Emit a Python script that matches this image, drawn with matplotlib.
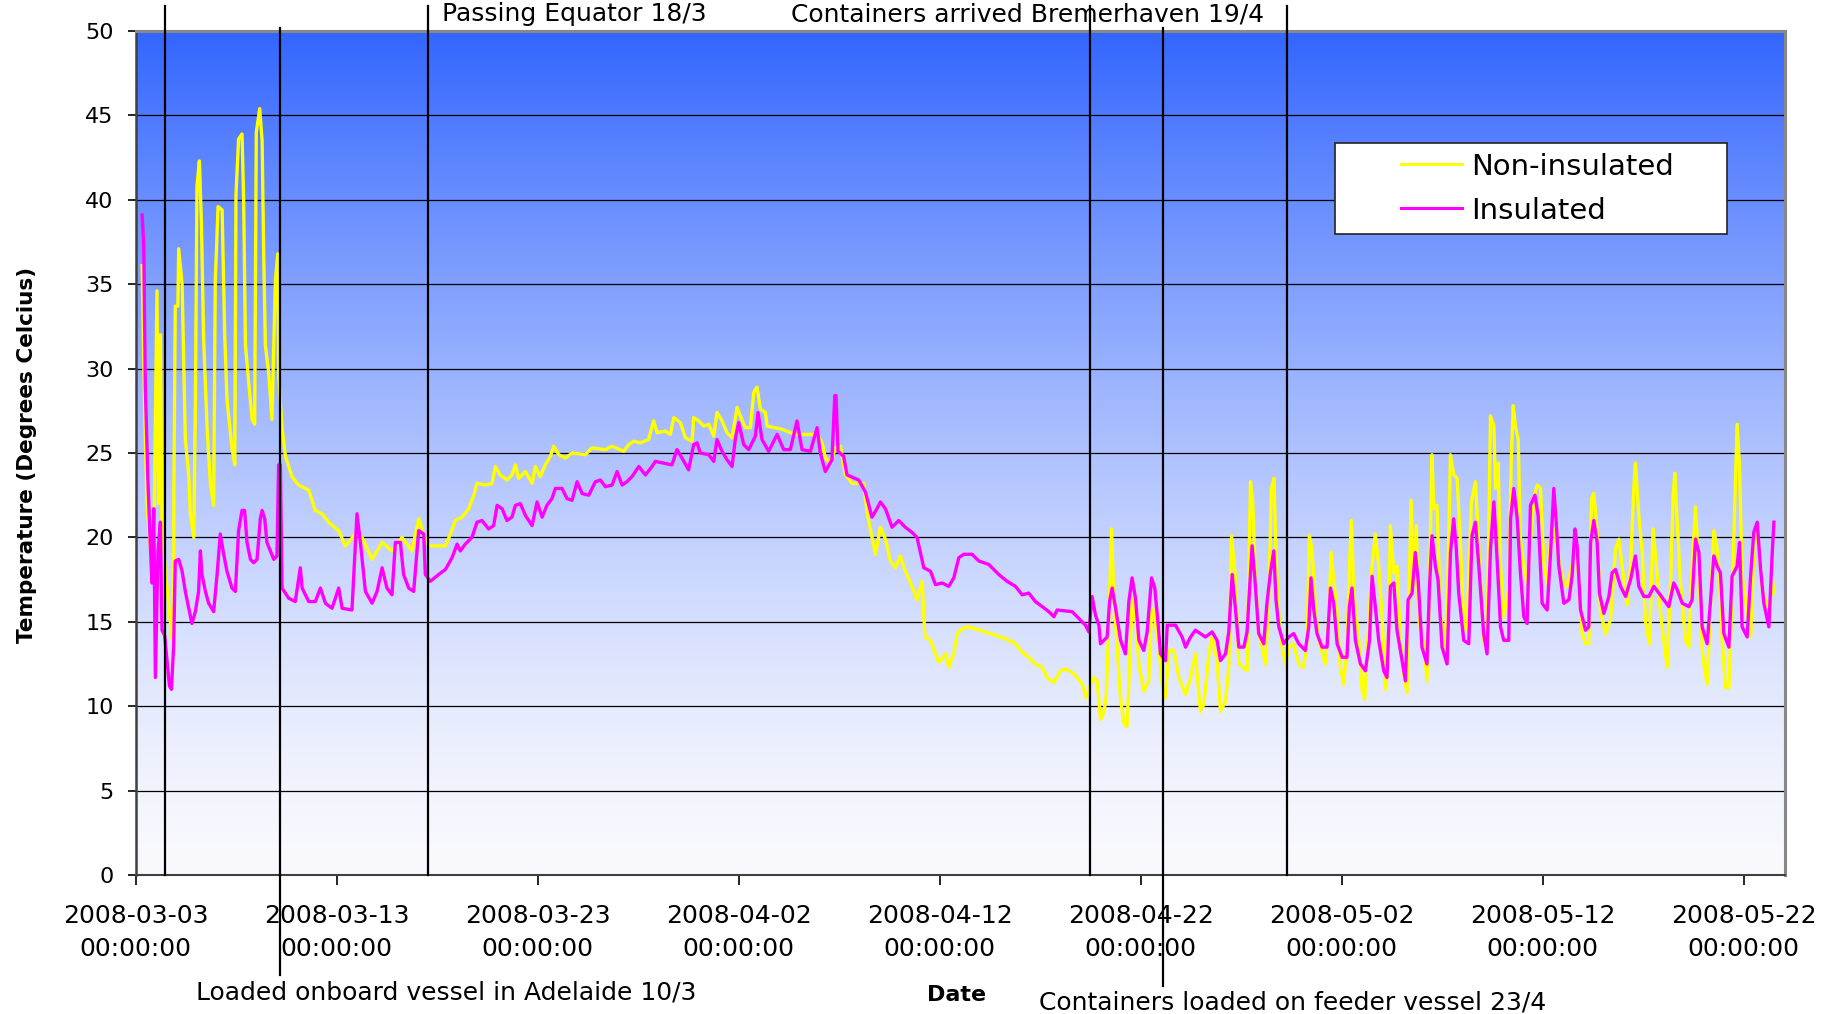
import datetime as dt

import matplotlib
matplotlib.use('Agg')
import matplotlib.pyplot as plt
import matplotlib.dates as mdates
import matplotlib.transforms as mtransforms
from matplotlib.patches import Rectangle
from matplotlib.lines import Line2D
import numpy as np

START = dt.datetime(2008, 3, 3)

# readings as (days after 2008-03-03 00:00, degrees C)
non_ins_days = [
    0.32, 0.45, 0.56, 0.75, 0.90, 1.06, 1.14, 1.23, 1.31, 1.48, 1.64, 1.81, 1.89,
    1.90, 1.97, 2.10, 2.14, 2.31, 2.47, 2.64, 2.72, 2.89, 2.97, 3.05, 3.17, 3.27,
    3.38, 3.55, 3.72, 3.88, 3.96, 4.10, 4.30, 4.43, 4.54, 4.79, 4.93, 4.99, 5.12,
    5.29, 5.37, 5.46, 5.62, 5.79, 5.92, 6.00, 6.17, 6.29, 6.37, 6.45, 6.62, 6.78,
    6.95, 7.07, 7.11, 7.28, 7.45, 7.78, 8.11, 8.61, 8.94, 9.27, 9.60, 10.10, 10.43,
    10.93, 11.26, 11.76, 12.26, 12.75, 13.25, 13.75, 14.08, 14.33, 14.58, 15.41,
    15.66, 15.90, 16.24, 16.57, 16.82, 16.98, 17.40, 17.73, 17.89, 18.14, 18.47,
    18.72, 18.89, 19.05, 19.39, 19.72, 19.88, 20.13, 20.38, 20.63, 20.80, 21.05,
    21.38, 21.71, 22.37, 22.70, 23.37, 23.70, 24.28, 24.53, 24.78, 25.11, 25.52,
    25.77, 25.94, 26.35, 26.60, 26.77, 27.10, 27.35, 27.68, 27.76, 28.01, 28.26,
    28.51, 28.76, 28.92, 29.17, 29.42, 29.67, 29.92, 30.08, 30.33, 30.58, 30.75,
    30.91, 31.08, 31.33, 31.41, 32.16, 32.82, 33.90, 34.15, 34.31, 34.56, 34.81,
    35.06, 35.31, 35.64, 36.22, 36.38, 36.63, 36.80, 37.05, 37.30, 37.55, 37.80,
    38.04, 38.29, 38.62, 38.87, 39.13, 39.26, 39.54, 39.79, 39.95, 40.29, 40.45,
    40.70, 40.87, 41.12, 41.45, 42.28, 43.27, 43.77, 44.10, 44.43, 44.76, 45.10,
    45.34, 45.68, 46.01, 46.26, 46.59, 46.84, 47.09, 47.29, 47.50, 47.67, 47.83,
    48.00, 48.16, 48.28, 48.41, 48.55, 48.66, 48.83, 48.99, 49.16, 49.32, 49.44,
    49.57, 49.74, 49.91, 50.15, 50.40, 50.54, 50.65, 50.90, 51.07, 51.23, 51.40,
    51.65, 51.90, 52.23, 52.48, 52.72, 52.97, 53.14, 53.39, 53.55, 53.80, 53.97,
    54.22, 54.38, 54.52, 54.71, 54.88, 55.29, 55.46, 55.57, 55.70, 55.87, 56.04,
    56.20, 56.37, 56.50, 56.63, 56.73, 56.87, 57.03, 57.20, 57.36, 57.61, 57.86,
    58.11, 58.27, 58.39, 58.52, 58.69, 58.85, 59.19, 59.35, 59.47, 59.60, 59.77,
    59.93, 60.10, 60.26, 60.38, 60.48, 60.60, 60.85, 61.01, 61.14, 61.26, 61.48,
    61.67, 61.84, 62.01, 62.17, 62.30, 62.42, 62.59, 62.75, 62.92, 63.08, 63.25,
    63.33, 63.45, 63.58, 63.71, 63.83, 64.08, 64.24, 64.33, 64.49, 64.58, 64.74,
    64.91, 65.07, 65.24, 65.41, 65.57, 65.74, 65.90, 66.07, 66.23, 66.45, 66.65,
    66.82, 67.06, 67.23, 67.40, 67.57, 67.65, 67.78, 67.90, 68.06, 68.31, 68.43,
    68.53, 68.64, 68.78, 68.89, 69.06, 69.22, 69.39, 69.56, 69.72, 69.89, 70.05,
    70.22, 70.39, 70.55, 70.80, 71.05, 71.21, 71.46, 71.63, 71.80, 71.96, 72.13,
    72.29, 72.43, 72.54, 72.71, 72.87, 73.12, 73.37, 73.62, 73.79, 73.95, 74.20,
    74.37, 74.53, 74.61, 74.78, 74.95, 75.11, 75.31, 75.49, 75.61, 75.86, 76.02,
    76.19, 76.36, 76.49, 76.57, 76.69, 76.85, 77.10, 77.27, 77.43, 77.60, 77.77,
    77.96, 78.18, 78.35, 78.51, 78.63, 78.76, 78.93, 79.09, 79.26, 79.42, 79.59,
    79.67, 79.79, 79.92, 80.09, 80.34, 80.50, 80.67, 80.92, 81.08, 81.25, 81.41,
    81.50,
]
non_ins_temp = [
    36.1, 27.2, 22.0, 19.0, 19.0, 34.6, 22.0, 32.0, 20.4, 18.0, 16.0, 14.0, 14.0,
    22.8, 33.7, 33.7, 37.1, 35.0, 25.8, 23.7, 21.4, 20.0, 28.0, 40.8, 42.3, 38.6,
    31.8, 26.5, 23.1, 21.9, 35.2, 39.6, 39.4, 32.0, 28.2, 25.3, 24.3, 40.3, 43.6,
    43.9, 40.1, 31.4, 29.2, 27.0, 26.7, 44.0, 45.4, 43.5, 36.7, 31.4, 29.7, 27.0,
    35.2, 36.8, 29.7, 26.5, 24.8, 23.6, 23.1, 22.8, 21.6, 21.4, 20.9, 20.4, 19.5,
    20.2, 20.0, 18.7, 19.7, 19.2, 20.0, 19.2, 21.1, 20.2, 19.5, 19.5,
    20.2, 21.0, 21.2, 21.7, 22.5, 23.2, 23.1, 23.2, 24.2, 23.7, 23.4,
    23.7, 24.3, 23.5, 23.9, 23.2, 24.2, 23.6, 24.3, 24.8, 25.4, 24.9,
    24.7, 25.0, 24.9, 25.3, 25.2, 25.4, 25.1, 25.5, 25.7, 25.6, 25.8,
    26.9, 26.2, 26.3, 26.1, 27.1, 26.8, 25.9, 25.7, 27.1, 26.9, 26.6,
    26.7, 26.0, 27.4, 26.9, 26.2, 25.9, 27.7, 27.2, 26.5, 26.5, 28.6,
    28.9, 27.6, 27.4, 26.6, 26.4, 26.1, 26.1, 25.6, 24.7, 24.4, 25.3,
    25.4, 23.7, 23.2, 23.2, 21.5, 20.0, 19.0, 20.6, 19.9, 18.6, 18.2,
    18.9, 18.0, 17.1, 16.3, 17.4, 14.1, 13.9, 13.1, 12.6, 13.1, 12.3,
    13.1, 14.3, 14.6, 14.7, 14.4, 14.0, 13.7, 13.2, 12.9, 12.5, 12.3,
    11.7, 11.4, 12.1, 12.2, 12.0, 11.7, 11.3, 10.5, 11.3, 11.7, 11.5,
    9.2, 9.6, 10.5, 14.8, 20.5, 16.4, 13.5, 10.5, 9.0, 8.8, 12.3,
    16.4, 15.4, 12.5, 10.9, 11.5, 15.8, 15.6, 13.5, 11.3, 10.5, 13.3,
    13.3, 11.7, 10.7, 11.7, 13.1, 9.7, 10.1, 13.1, 14.1, 12.7, 9.7,
    10.3, 12.3, 20.1, 17.6, 12.5, 12.1, 23.3, 22.2, 17.9, 14.3, 13.5,
    12.5, 16.3, 22.9, 23.5, 18.9, 15.5, 13.5, 12.5, 13.5, 13.7, 12.5,
    12.3, 13.7, 20.1, 19.3, 15.9, 13.9, 12.5, 15.1, 19.1, 17.5, 15.5,
    12.3, 11.3, 13.7, 18.1, 21.0, 16.7, 13.9, 11.0, 10.4, 13.1, 17.9,
    20.2, 18.3, 15.3, 11.0, 12.3, 20.7, 17.9, 18.3, 13.9, 11.9, 10.8,
    15.5, 22.2, 17.1, 20.7, 15.1, 13.7, 11.5, 15.3, 24.9, 21.7, 21.9,
    15.5, 13.3, 15.5, 24.9, 23.7, 23.5, 19.9, 14.7, 14.5, 22.1, 23.3,
    19.5, 13.9, 13.5, 27.2, 26.6, 22.9, 24.4, 18.3, 15.3, 17.1, 24.4,
    27.8, 26.6, 25.8, 19.9, 18.3, 17.3, 19.7, 22.3, 23.1, 22.9, 18.5,
    17.3, 19.9, 20.5, 18.7, 17.3, 17.1, 18.3, 19.7, 17.5, 14.3, 13.7,
    13.7, 22.3, 22.6, 20.3, 15.7, 14.3, 15.1, 19.3, 19.9, 18.3, 16.0,
    18.3, 22.9, 24.4, 21.3, 19.1, 15.0, 13.7, 20.5, 18.9, 15.5, 13.9,
    12.3, 17.3, 22.5, 23.8, 20.9, 17.3, 13.9, 13.5, 18.3, 21.8, 17.9,
    12.9, 11.3, 16.0, 20.4, 19.7, 18.3, 13.9, 11.1, 11.1, 16.5, 23.5,
    26.7, 24.2, 17.7, 16.3, 14.1, 19.1, 20.7, 16.9, 16.3, 15.1, 17.7,
    16.7,
]

ins_days = [
    0.32, 0.40, 0.48, 0.61, 0.73, 0.81, 0.90, 0.98, 1.11, 1.23, 1.31, 1.44, 1.56,
    1.68, 1.78, 1.89, 1.97, 2.14, 2.31, 2.47, 2.64, 2.80, 2.97, 3.13, 3.22, 3.30,
    3.47, 3.63, 3.88, 4.05, 4.21, 4.38, 4.54, 4.79, 4.96, 5.12, 5.29, 5.42, 5.54,
    5.71, 5.87, 6.04, 6.20, 6.29, 6.42, 6.53, 6.70, 6.87, 7.03, 7.11, 7.20, 7.28,
    7.61, 7.94, 8.19, 8.28, 8.61, 8.94, 9.19, 9.44, 9.77, 10.10, 10.27, 10.76,
    11.01, 11.18, 11.43, 11.76, 12.01, 12.26, 12.50, 12.75, 12.92, 13.17, 13.33,
    13.58, 13.83, 14.08, 14.33, 14.41, 14.66, 15.07, 15.41, 15.74, 15.99, 16.15,
    16.40, 16.73, 16.98, 17.23, 17.56, 17.81, 17.98, 18.23, 18.47, 18.72, 18.89,
    19.14, 19.39, 19.72, 19.97, 20.22, 20.46, 20.71, 20.88, 21.21, 21.46, 21.71,
    21.96, 22.21, 22.54, 22.87, 23.12, 23.37, 23.70, 23.95, 24.20, 24.44, 24.69,
    25.03, 25.36, 25.69, 25.85, 26.68, 26.93, 27.18, 27.51, 27.76, 27.93, 28.09,
    28.51, 28.76, 28.92, 29.17, 29.42, 29.67, 29.83, 30.00, 30.25, 30.50, 30.83,
    30.96, 31.16, 31.49, 31.91, 32.24, 32.57, 32.90, 33.15, 33.57, 33.90, 34.06,
    34.31, 34.64, 34.78, 34.84, 34.94, 35.22, 35.39, 35.97, 36.30, 36.63, 36.88,
    37.05, 37.30, 37.63, 37.96, 38.29, 38.62, 38.87, 39.21, 39.54, 39.79, 40.12,
    40.45, 40.70, 40.95, 41.20, 41.61, 41.95, 42.44, 42.94, 43.35, 43.77, 44.10,
    44.43, 44.76, 45.10, 45.43, 45.68, 45.84, 46.59, 46.92, 47.25, 47.42, 47.58,
    47.75, 47.92, 48.00, 48.33, 48.45, 48.58, 48.75, 49.00, 49.24, 49.41, 49.57,
    49.74, 49.91, 50.15, 50.32, 50.54, 50.70, 50.87, 50.98, 51.23, 51.32, 51.73,
    52.06, 52.23, 52.48, 52.72, 52.97, 53.22, 53.55, 53.80, 53.97, 54.22, 54.38,
    54.55, 54.71, 54.88, 55.13, 55.29, 55.54, 55.67, 55.87, 56.12, 56.28, 56.45,
    56.62, 56.73, 56.87, 57.11, 57.36, 57.61, 57.86, 58.19, 58.36, 58.47, 58.61,
    58.77, 59.02, 59.27, 59.44, 59.60, 59.77, 60.02, 60.26, 60.38, 60.51, 60.68,
    60.93, 61.18, 61.38, 61.51, 61.67, 61.84, 62.09, 62.25, 62.42, 62.59, 62.75,
    63.00, 63.17, 63.30, 63.50, 63.66, 63.80, 63.99, 64.24, 64.36, 64.49, 64.66,
    64.79, 64.99, 65.24, 65.41, 65.57, 65.69, 65.82, 66.07, 66.32, 66.48, 66.65,
    66.82, 67.06, 67.23, 67.40, 67.57, 67.73, 67.90, 68.06, 68.31, 68.40, 68.56,
    68.73, 68.89, 69.06, 69.22, 69.39, 69.61, 69.77, 69.97, 70.22, 70.39, 70.55,
    70.67, 70.80, 71.05, 71.30, 71.46, 71.60, 71.71, 71.88, 72.13, 72.29, 72.38,
    72.54, 72.71, 72.82, 73.04, 73.29, 73.45, 73.62, 73.87, 74.12, 74.37, 74.61,
    74.78, 75.03, 75.28, 75.53, 75.78, 76.27, 76.52, 76.69, 76.94, 77.27, 77.43,
    77.60, 77.77, 77.93, 78.18, 78.35, 78.51, 78.68, 78.84, 79.01, 79.26, 79.42,
    79.67, 79.79, 79.92, 80.17, 80.34, 80.50, 80.67, 80.84, 81.00, 81.25, 81.41,
    81.50,
]
ins_temp = [
    39.1, 37.4, 28.9, 23.3, 19.5, 17.3, 21.7, 11.7, 19.2, 20.9, 14.5, 14.2, 12.7,
    11.2, 11.0, 13.6, 18.6, 18.7, 18.0, 16.8, 15.8, 14.9, 15.6, 16.8, 19.2, 17.8,
    16.8, 16.1, 15.6, 17.8, 20.2, 19.0, 18.0, 17.0, 16.8, 20.4, 21.6, 21.6, 19.7,
    18.7, 18.5, 18.7, 21.1, 21.6, 21.1, 19.7, 19.2, 18.7, 18.9, 24.3, 24.3, 17.0,
    16.4, 16.2, 18.2, 17.0, 16.2, 16.2, 17.0, 16.1, 15.8, 17.0, 15.8, 15.7,
    21.4, 19.7, 16.8, 16.1, 16.8, 18.2, 17.0, 16.6, 19.7, 19.7, 17.8,
    17.0, 16.8, 20.4, 20.2, 17.8, 17.4, 17.8, 18.1, 18.8, 19.6, 19.2,
    19.6, 20.0, 20.9, 21.0, 20.5, 20.7, 21.9, 21.7, 21.0, 21.2, 21.9,
    22.0, 21.3, 20.7, 22.1, 21.2, 21.9, 22.3, 22.9, 22.9, 22.3, 22.2,
    23.3, 22.6, 22.5, 23.3, 23.4, 23.0, 23.1, 23.9, 23.1, 23.3, 23.6,
    24.2, 23.7, 24.2, 24.5, 24.3, 25.2, 24.7, 24.0, 25.5, 25.6, 25.0,
    24.9, 24.5, 25.8, 25.1, 24.6, 24.2, 25.8, 26.8, 25.5, 25.2, 26.0,
    27.4, 25.8, 25.1, 26.1, 25.2, 25.2, 26.9, 25.2, 25.1, 26.5, 25.0,
    23.9, 24.6, 28.4, 28.4, 25.1, 24.8, 23.7, 23.4, 22.7, 21.2, 21.7,
    22.1, 21.7, 20.6, 21.0, 20.6, 20.3, 20.0, 18.2, 18.0, 17.2, 17.3,
    17.1, 17.6, 18.8, 19.0, 19.0, 18.6, 18.4, 17.8, 17.4, 17.1, 16.6,
    16.7, 16.2, 15.9, 15.6, 15.3, 15.7, 15.6, 15.2, 14.8, 14.4, 16.5,
    15.4, 14.8, 13.7, 14.1, 16.2, 17.0, 15.8, 13.9, 13.1, 16.2, 17.6,
    16.4, 13.9, 13.3, 14.4, 17.6, 17.0, 14.8, 13.1, 12.7, 14.8, 14.8,
    14.1, 13.5, 14.1, 14.5, 14.3, 14.1, 14.4, 13.9, 12.7, 13.1, 14.4,
    17.8, 15.8, 13.5, 13.5, 14.4, 19.5, 17.7, 14.3, 13.7, 16.1, 17.9,
    19.2, 16.3, 14.7, 13.7, 14.1, 14.3, 13.7, 13.3, 14.7, 17.6, 15.7,
    14.3, 13.5, 13.5, 17.0, 16.1, 13.7, 12.9, 12.9, 15.9, 17.0, 13.9,
    12.5, 12.1, 13.9, 17.7, 15.9, 13.9, 12.1, 11.7, 17.1, 17.3, 14.5,
    12.7, 11.5, 16.3, 16.7, 19.1, 17.5, 13.5, 12.5, 16.9, 20.1, 18.3,
    17.5, 13.5, 12.5, 19.1, 21.1, 19.5, 16.7, 13.9, 13.7, 20.1, 20.9,
    18.3, 14.3, 13.1, 19.3, 22.1, 18.7, 14.7, 13.9, 13.9, 21.1, 22.9,
    21.1, 17.9, 15.3, 14.9, 21.9, 22.5, 21.3, 16.1, 15.7, 19.1, 22.9,
    20.9, 18.3, 16.1, 16.3, 17.7, 20.5, 19.5, 15.7, 14.5, 14.7, 19.7,
    21.0, 19.7, 16.7, 15.5, 16.5, 17.9, 18.1, 17.1, 16.5, 17.5, 18.9,
    17.1, 16.5, 16.5, 17.1, 16.7, 15.9, 17.3, 16.9, 16.1, 15.9, 16.3,
    19.9, 19.1, 14.7, 13.7, 16.3, 18.9, 18.3, 17.9, 14.3, 13.5, 17.7,
    18.3, 19.7, 14.7, 14.1, 17.7, 20.3, 20.9, 18.1, 16.1, 14.7, 18.9,
    20.9,
]

# vertical marker lines (days after start) and their annotations
event_days = [1.44, 7.20, 14.54, 47.46, 51.10, 57.30]
event_labels = [
    ("Passing Equator 18/3", 0.241, 0.979),
    ("Containers arrived Bremerhaven 19/4", 0.431, 0.979),
    ("Loaded onboard vessel in Adelaide 10/3", 0.107, 0.014),
    ("Containers loaded on feeder vessel 23/4", 0.566, 0.004),
]


def to_dates(days):
    return [START + dt.timedelta(days=d) for d in days]


fig = plt.figure(figsize=(18.36, 10.14), dpi=100)
ax = fig.add_axes([0.0739, 0.1371, 0.8983, 0.8323])

x0 = mdates.date2num(START)
x1 = mdates.date2num(START + dt.timedelta(days=82.05))

# blue-to-white background, whitening faster towards the bottom
t = np.linspace(0, 1, 256)  # 0 at the bottom (0 C), 1 at the top (50 C)
s = 1 - t ** 1.4
top = np.array([0.20, 0.40, 1.00])
bottom = np.array([0.98, 0.98, 0.995])
grad = top + (bottom - top) * s[:, None]
ax.imshow(grad[:, None, :], extent=[x0, x1, 0, 50], origin='lower',
          aspect='auto', zorder=0, interpolation='bilinear')

for yv in range(5, 50, 5):
    ax.axhline(yv, color='black', lw=0.9, zorder=1)

ax.plot(to_dates(non_ins_days), non_ins_temp, color='#FFFF00', lw=2.4, zorder=3)
ax.plot(to_dates(ins_days), ins_temp, color='#FF00FF', lw=2.4, zorder=4)

ax.set_xlim(x0, x1)
ax.set_ylim(0, 50)
ax.set_yticks(range(0, 51, 5))
ticks = [START + dt.timedelta(days=10 * i) for i in range(9)]
ax.set_xticks(ticks)
ax.xaxis.set_major_formatter(mdates.DateFormatter('%Y-%m-%d\n%H:%M:%S'))
for lab in ax.get_xticklabels():
    lab.set_linespacing(1.45)

ax.tick_params(axis='y', labelsize=16, length=6, width=1.2, pad=10)
ax.tick_params(axis='x', labelsize=18, length=7, width=1.2, pad=14)

ax.spines['left'].set_color('#404040')
ax.spines['left'].set_linewidth(1.8)
ax.spines['bottom'].set_color('#404040')
ax.spines['bottom'].set_linewidth(1.5)
ax.spines['top'].set_color('#888888')
ax.spines['top'].set_linewidth(2.2)
ax.spines['right'].set_color('#888888')
ax.spines['right'].set_linewidth(2.2)

# event lines run past the plot area
blend = mtransforms.blended_transform_factory(ax.transData, fig.transFigure)
line_spans = [(0.994, 0.137), (0.972, 0.038), (0.994, 0.137),
              (0.994, 0.137), (0.972, 0.028), (0.994, 0.137)]
for d, (ya, yb) in zip(event_days, line_spans):
    xd = mdates.date2num(START + dt.timedelta(days=d))
    fig.add_artist(Line2D([xd, xd], [ya, yb], transform=blend,
                          color='black', lw=1.6, zorder=5))

for text, tx, ty in event_labels:
    fig.text(tx, ty, text, fontsize=18, ha='left', va='baseline')

fig.text(0.0147, 0.551, 'Temperature (Degrees Celcius)', rotation=90,
         fontsize=15.5, fontweight='bold', ha='center', va='center')
fig.text(0.521, 0.0128, 'Date', fontsize=16, fontweight='bold',
         ha='center', va='baseline')

# legend box
ax.add_patch(Rectangle((0.727, 0.759), 0.238, 0.108, transform=ax.transAxes,
                       facecolor='white', edgecolor='#222222', lw=1.2, zorder=6))
handles = [Line2D([], [], color='#FFFF00', lw=2.2),
           Line2D([], [], color='#FF00FF', lw=2.2)]
ax.legend(handles, ['Non-insulated', 'Insulated'], loc='upper left',
          bbox_to_anchor=(0.767, 0.856), frameon=False, fontsize=21,
          handlelength=2.1, handletextpad=0.33, labelspacing=0.55,
          borderpad=0, borderaxespad=0).set_zorder(7)

fig.savefig('out.png', dpi=100)
